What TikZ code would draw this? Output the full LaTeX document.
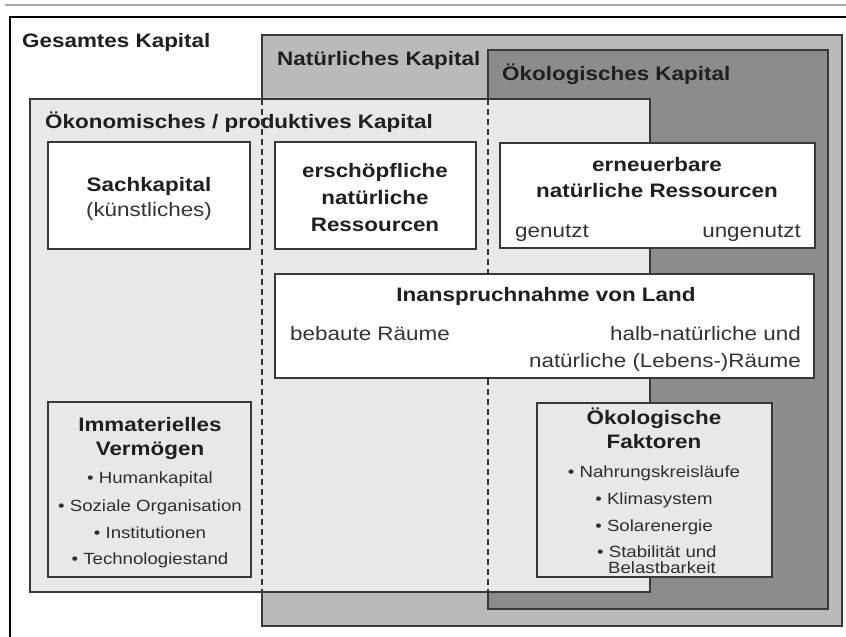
\documentclass[tikz,border=0pt]{standalone}
\usepackage{fontspec}
\setmainfont{Liberation Sans}[FakeStretch=1.15]
\begin{document}
\begin{tikzpicture}[x=1pt,y=-1pt,
  frame/.style={draw=black!78, line width=1.4pt},
  area/.style={frame, anchor=north west, inner sep=0pt, outer sep=0pt},
  ttl/.style={font=\fontsize{19.5}{23}\selectfont\bfseries, text=black!88, inner sep=0pt},
  txt/.style={font=\fontsize{19.5}{23}\selectfont, text=black!80, inner sep=0pt},
  itm/.style={font=\fontsize{16.2}{19}\selectfont, text=black!82, inner sep=0pt},
  sep/.style={draw=black!80, line width=1.4pt, dash pattern=on 6pt off 4pt}
]
\useasboundingbox (0,0) rectangle (846,637);
\clip (0,0) rectangle (846,637);
\fill[white] (0,0) rectangle (846,637);
\draw[black!35, line width=2.5pt] (5,5) -- (850,5);

% areas
\node[area, draw=black, fill=white, minimum width=900pt, minimum height=700pt] (ges) at (10,17) {};
\node[area, fill=black!27, minimum width=580pt, minimum height=591pt] (nat) at (262,35) {};
\node[area, fill=black!45, minimum width=340pt, minimum height=559pt] (oeko) at (488,50) {};
\node[area, fill=black!9, minimum width=620pt, minimum height=493pt] (oekon) at (30,99) {};

% titles
\node[ttl, anchor=base west] (tges) at (22,47) {Gesamtes Kapital};
\node[ttl, anchor=base west] (tnat) at (277,65) {Natürliches Kapital};
\node[ttl, anchor=base west] (toeko) at (502,80) {Ökologisches Kapital};
\node[ttl, anchor=base west] (toekon) at (45,128) {Ökonomisches / produktives Kapital};

% dashed separators
\coordinate (d1t) at (262,99); \coordinate (d1b) at (262,592);
\coordinate (d2t) at (488,99); \coordinate (d2b) at (488,592);
\draw[sep] (d1t) -- (d1b);
\draw[sep] (d2t) -- (d2b);

% inner boxes
\node[area, fill=white, minimum width=202pt, minimum height=107pt] (sach) at (48,142) {};
\node[area, fill=white, minimum width=201pt, minimum height=107pt] (ersch) at (275,142) {};
\node[area, fill=white, minimum width=315pt, minimum height=105pt] (ern) at (500,143) {};
\node[area, fill=white, minimum width=539pt, minimum height=104pt] (land) at (275,274) {};
\node[area, fill=black!9, minimum width=203pt, minimum height=175pt] (imm) at (48,402) {};
\node[area, fill=black!9, minimum width=235pt, minimum height=174pt] (fakt) at (537,403) {};

% Sachkapital
\node[ttl, anchor=base] (s1) at (149,191) {Sachkapital};
\node[txt, anchor=base] (s2) at (149,216) {(künstliches)};

% erschöpfliche
\node[ttl, anchor=base] (e1) at (375,177) {erschöpfliche};
\node[ttl, anchor=base] (e2) at (375,204) {natürliche};
\node[ttl, anchor=base] (e3) at (375,231) {Ressourcen};

% erneuerbare
\node[ttl, anchor=base] (r1) at (657,171) {erneuerbare};
\node[ttl, anchor=base] (r2) at (657,197) {natürliche Ressourcen};
\node[txt, anchor=base west] (r3) at (515,237) {genutzt};
\node[txt, anchor=base east] (r4) at (801,237) {ungenutzt};

% Land
\node[ttl, anchor=base] (l1) at (546,301) {Inanspruchnahme von Land};
\node[txt, anchor=base west] (l2) at (290,340) {bebaute Räume};
\node[txt, anchor=base east] (l3) at (801,340) {halb-natürliche und};
\node[txt, anchor=base east] (l4) at (801,367) {natürliche (Lebens-)Räume};

% Immaterielles
\node[ttl, anchor=base] (i1) at (150,431) {Immaterielles};
\node[ttl, anchor=base] (i2) at (150,455) {Vermögen};
\node[itm, anchor=base] (i3) at (150,483) {• Humankapital};
\node[itm, anchor=base] (i4) at (150,511) {• Soziale Organisation};
\node[itm, anchor=base] (i5) at (150,538) {• Institutionen};
\node[itm, anchor=base] (i6) at (150,564) {• Technologiestand};

% Ökologische Faktoren
\node[ttl, anchor=base] (f1) at (654,424) {Ökologische};
\node[ttl, anchor=base] (f2) at (654,448) {Faktoren};
\node[itm, anchor=base] (f3) at (654,477) {• Nahrungskreisläufe};
\node[itm, anchor=base] (f4) at (654,504) {• Klimasystem};
\node[itm, anchor=base] (f5) at (654,531) {• Solarenergie};
\node[itm, anchor=base west] (f6) at (597,557) {• Stabilität und};
\node[itm, anchor=base west] (f7) at (608,573) {Belastbarkeit};
\end{tikzpicture}
\end{document}
